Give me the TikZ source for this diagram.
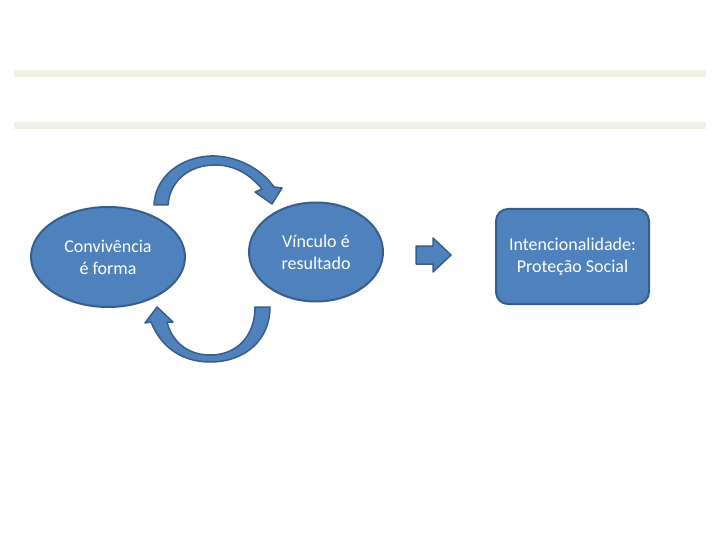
\documentclass[tikz,border=0pt]{standalone}
\usepackage{fontspec}
\setmainfont{Carlito}
\usepackage{tikz}
\usetikzlibrary{positioning,shapes.geometric}
\definecolor{azul}{HTML}{4F81BD}
\definecolor{azulesc}{HTML}{385D8A}
\definecolor{faixa}{HTML}{EEF1E3}
\tikzset{%
  font=\fontsize{18}{22}\selectfont,
  elipse/.style = { ellipse, draw=azulesc, line width=2pt, fill=azul, text=white, align=center, inner sep=0pt },
  caixa/.style  = { rectangle, rounded corners=12pt, draw=azulesc, line width=2pt, fill=azul, text=white, align=center },
  seta/.style   = { draw=azulesc, line width=1.5pt, fill=azul, line join=round }
}
\begin{document}
\begin{tikzpicture}[x=1pt,y=-1pt]
	\useasboundingbox (0,0) rectangle (720,540);
	% faixas do titulo
	\fill[faixa] (14,70) rectangle (706,77);
	\fill[faixa] (14,122) rectangle (706,129);
	% nos
	\node[elipse,minimum width=154pt,minimum height=100pt] (conv) at (108,257) {Convivência\\é forma};
	\node[elipse,minimum width=134pt,minimum height=99pt] (vinc) at (316,252) {Vínculo é\\resultado};
	\node[caixa,minimum width=153pt,minimum height=95pt] (prot) at (572.5,256.5) {Intencionalidade:\\Proteção Social};
	% seta de avanco
	\draw[seta] (416,246) -- (433,246) -- (433,238) -- (451,255) -- (433,272) -- (433,264) -- (416,264) -- cycle;
	% setas curvas
	\draw[seta] (154,205) .. controls (156,170) and (190,155) .. (215,156)
		.. controls (240,157) and (262,170) .. (274,187) -- (282,188) -- (272,204) -- (255,192) -- (262,189)
		.. controls (248,172) and (232,165) .. (215,165)
		.. controls (190,165) and (170,180) .. (168,205) -- cycle;
	\draw[seta] (270,307) .. controls (270,340) and (245,362) .. (210,362)
		.. controls (180,362) and (160,345) .. (151,322) -- (145,323) -- (157,307) -- (173,322) -- (167,322)
		.. controls (172,342) and (188,355) .. (210,355)
		.. controls (238,355) and (255,335) .. (255,307) -- cycle;
\end{tikzpicture}
\end{document}
